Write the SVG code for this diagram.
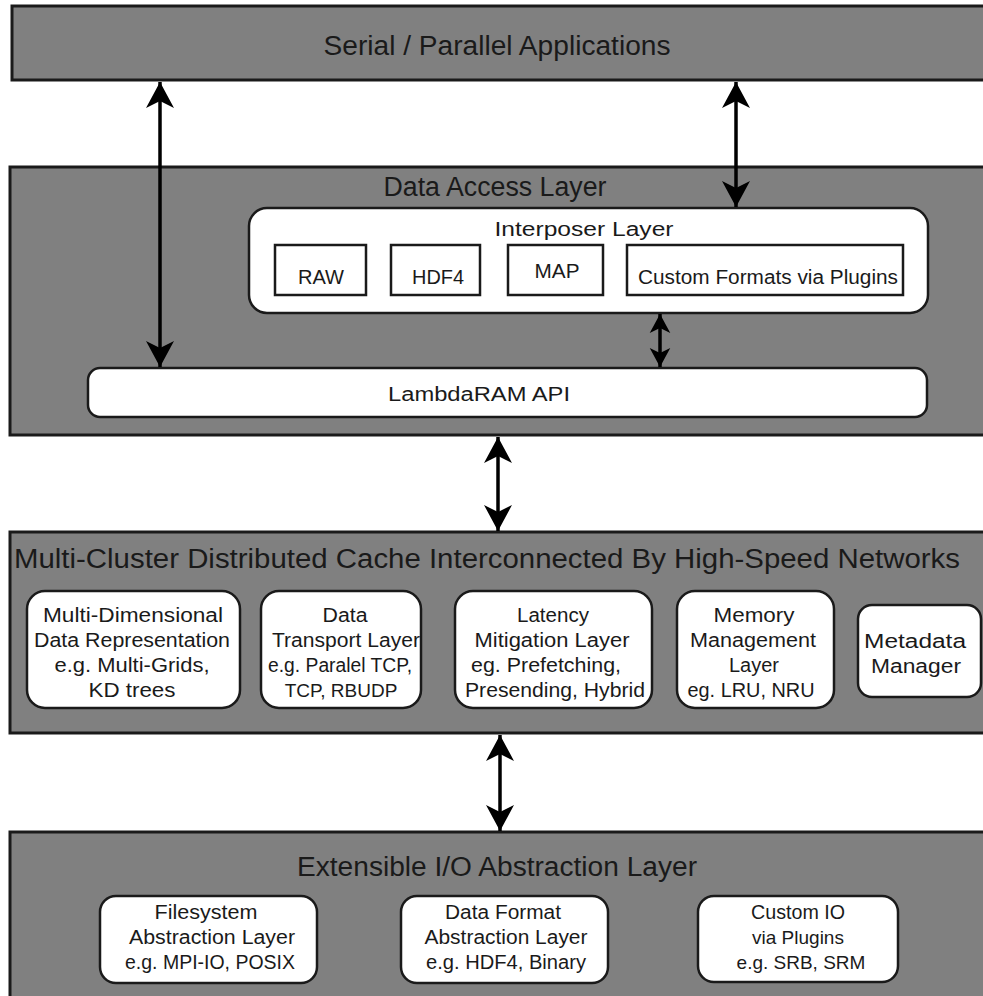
<svg xmlns="http://www.w3.org/2000/svg" width="983" height="996" viewBox="0 0 983 996">
<defs>
<style>
.layer{fill:#808080;stroke:#1a1a1a;stroke-width:3}
.wbox{fill:#ffffff;stroke:#1a1a1a;stroke-width:2.5}
.sbox{fill:#ffffff;stroke:#1a1a1a;stroke-width:2.5}
text{font-family:"Liberation Sans",Arial,sans-serif;fill:#1a1a1a;text-anchor:middle}
.t1{font-size:27px}
.t2{font-size:20px}
.t3{font-size:20px}
.t4{font-size:19px}
.conn{stroke:#000;stroke-width:3.5;fill:none}
</style>
<marker id="ah" viewBox="0 0 30 30" refX="28" refY="15" markerWidth="30" markerHeight="30" markerUnits="userSpaceOnUse" orient="auto-start-reverse">
<path d="M28,15 L2,1 L9,15 L2,29 Z" fill="#000"/>
</marker>
<marker id="ahs" viewBox="0 0 30 30" refX="28" refY="15" markerWidth="22" markerHeight="22" markerUnits="userSpaceOnUse" orient="auto-start-reverse">
<path d="M28,15 L2,1 L9,15 L2,29 Z" fill="#000"/>
</marker>
</defs>

<g id="apps">
<rect class="layer" x="12" y="6" width="990" height="74"/>
<text class="t1" x="497" y="55" textLength="347" lengthAdjust="spacingAndGlyphs">Serial / Parallel Applications</text>
</g>

<g id="data-access">
<rect class="layer" x="10" y="167" width="990" height="268"/>
<text class="t1" x="495" y="196" textLength="223" lengthAdjust="spacingAndGlyphs">Data Access Layer</text>
</g>

<g id="interposer">
<rect class="wbox" x="249" y="208" width="679" height="105" rx="18"/>
<text class="t3" x="584" y="236" textLength="179" lengthAdjust="spacingAndGlyphs">Interposer Layer</text>
</g>
<g id="raw">
<rect class="sbox" x="275" y="245" width="91" height="50"/>
<text class="t2" x="321" y="284" textLength="46" lengthAdjust="spacingAndGlyphs">RAW</text>
</g>
<g id="hdf4">
<rect class="sbox" x="391" y="245" width="89" height="50"/>
<text class="t2" x="438" y="284" textLength="52" lengthAdjust="spacingAndGlyphs">HDF4</text>
</g>
<g id="map">
<rect class="sbox" x="508" y="245" width="95" height="50"/>
<text class="t2" x="557" y="278" textLength="45" lengthAdjust="spacingAndGlyphs">MAP</text>
</g>
<g id="custom-formats">
<rect class="sbox" x="627" y="245" width="276" height="50"/>
<text class="t2" x="768" y="284" textLength="260" lengthAdjust="spacingAndGlyphs">Custom Formats via Plugins</text>
</g>

<g id="lambdaram">
<rect class="wbox" x="88" y="368" width="839" height="49" rx="12"/>
<text class="t2" x="479" y="401" textLength="182" lengthAdjust="spacingAndGlyphs">LambdaRAM API</text>
</g>

<g id="cache">
<rect class="layer" x="10" y="532" width="990" height="201"/>
<text class="t1" x="487" y="568" textLength="946" lengthAdjust="spacingAndGlyphs">Multi-Cluster Distributed Cache Interconnected By High-Speed Networks</text>
</g>
<g id="multi-dim">
<rect class="wbox" x="27" y="591" width="213" height="117" rx="18"/>
<text class="t3" x="133" y="622" textLength="180" lengthAdjust="spacingAndGlyphs">Multi-Dimensional</text>
<text class="t3" x="132" y="647" textLength="196" lengthAdjust="spacingAndGlyphs">Data Representation</text>
<text class="t3" x="132" y="672" textLength="155" lengthAdjust="spacingAndGlyphs">e.g. Multi-Grids,</text>
<text class="t3" x="132" y="697" textLength="87" lengthAdjust="spacingAndGlyphs">KD trees</text>
</g>
<g id="transport">
<rect class="wbox" x="261" y="591" width="160" height="117" rx="18"/>
<text class="t3" x="345" y="622" textLength="45" lengthAdjust="spacingAndGlyphs">Data</text>
<text class="t3" x="346" y="647" textLength="148" lengthAdjust="spacingAndGlyphs">Transport Layer</text>
<text class="t3" x="340" y="672" textLength="144" lengthAdjust="spacingAndGlyphs">e.g. Paralel TCP,</text>
<text class="t4" x="341" y="697">TCP, RBUDP</text>
</g>
<g id="latency">
<rect class="wbox" x="455" y="591" width="197" height="117" rx="18"/>
<text class="t3" x="553" y="622" textLength="72" lengthAdjust="spacingAndGlyphs">Latency</text>
<text class="t3" x="552" y="647" textLength="155" lengthAdjust="spacingAndGlyphs">Mitigation Layer</text>
<text class="t3" x="546" y="672" textLength="150" lengthAdjust="spacingAndGlyphs">eg. Prefetching,</text>
<text class="t3" x="555" y="697" textLength="180" lengthAdjust="spacingAndGlyphs">Presending, Hybrid</text>
</g>
<g id="memory">
<rect class="wbox" x="677" y="591" width="157" height="117" rx="18"/>
<text class="t3" x="754" y="622" textLength="81" lengthAdjust="spacingAndGlyphs">Memory</text>
<text class="t3" x="753" y="647" textLength="126" lengthAdjust="spacingAndGlyphs">Management</text>
<text class="t3" x="754" y="672" textLength="50" lengthAdjust="spacingAndGlyphs">Layer</text>
<text class="t3" x="751" y="697" textLength="127" lengthAdjust="spacingAndGlyphs">eg. LRU, NRU</text>
</g>
<g id="metadata">
<rect class="wbox" x="858" y="605" width="123" height="92" rx="14"/>
<text class="t3" x="915" y="648" textLength="102" lengthAdjust="spacingAndGlyphs">Metadata</text>
<text class="t3" x="916" y="673" textLength="90" lengthAdjust="spacingAndGlyphs">Manager</text>
</g>

<g id="io-layer">
<rect class="layer" x="10" y="832" width="990" height="170"/>
<text class="t1" x="497" y="876" textLength="400" lengthAdjust="spacingAndGlyphs">Extensible I/O Abstraction Layer</text>
</g>
<g id="filesystem">
<rect class="wbox" x="100" y="896" width="217" height="87" rx="16"/>
<text class="t3" x="206" y="919" textLength="103" lengthAdjust="spacingAndGlyphs">Filesystem</text>
<text class="t3" x="212" y="944" textLength="166" lengthAdjust="spacingAndGlyphs">Abstraction Layer</text>
<text class="t3" x="210" y="969" textLength="170" lengthAdjust="spacingAndGlyphs">e.g. MPI-IO, POSIX</text>
</g>
<g id="data-format">
<rect class="wbox" x="401" y="896" width="207" height="87" rx="16"/>
<text class="t3" x="503" y="919" textLength="116" lengthAdjust="spacingAndGlyphs">Data Format</text>
<text class="t3" x="506" y="944" textLength="163" lengthAdjust="spacingAndGlyphs">Abstraction Layer</text>
<text class="t3" x="506" y="969" textLength="160" lengthAdjust="spacingAndGlyphs">e.g. HDF4, Binary</text>
</g>
<g id="custom-io">
<rect class="wbox" x="698" y="896" width="200" height="86" rx="16"/>
<text class="t3" x="798" y="919" textLength="94" lengthAdjust="spacingAndGlyphs">Custom IO</text>
<text class="t4" x="798" y="944">via Plugins</text>
<text class="t4" x="801" y="969">e.g. SRB, SRM</text>
</g>

<g id="connectors">
<line class="conn" x1="160" y1="82" x2="160" y2="367" marker-start="url(#ah)" marker-end="url(#ah)"/>
<line class="conn" x1="736" y1="82" x2="736" y2="207" marker-start="url(#ah)" marker-end="url(#ah)"/>
<line class="conn" x1="660" y1="314" x2="660" y2="367" marker-start="url(#ahs)" marker-end="url(#ahs)"/>
<line class="conn" x1="498" y1="437" x2="498" y2="531" marker-start="url(#ah)" marker-end="url(#ah)"/>
<line class="conn" x1="500" y1="735" x2="500" y2="831" marker-start="url(#ah)" marker-end="url(#ah)"/>
</g>
</svg>
